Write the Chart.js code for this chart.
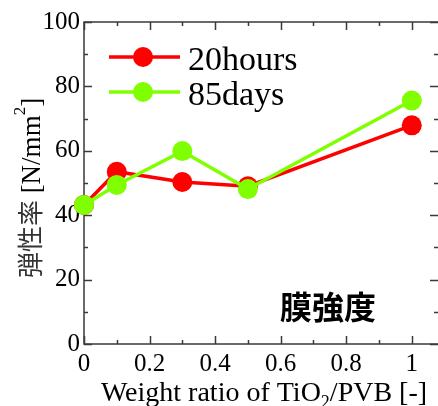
<!DOCTYPE html>
<html>
<head>
<meta charset="utf-8">
<script src="https://cdn.jsdelivr.net/npm/chart.js@4.4.0/dist/chart.umd.min.js"></script>
<style>
  html, body { margin: 0; padding: 0; background: #fff; }
  #c { display: block; }
</style>
</head>
<body>
<canvas id="c" width="438" height="406"></canvas>
<script>
// Elastic modulus of TiO2/PVB films vs. TiO2 weight ratio
const ratios = [0, 0.1, 0.3, 0.5, 1.0];
const modulus20hours = [43.2, 53.5, 50.3, 49.0, 67.9];
const modulus85days = [43.2, 49.4, 59.9, 48.1, 75.6];
const seriesLabels = ['20hours', '85days'];
const seriesColors = ['#ff0000', '#80ff00'];
const xMajorTicks = [0, 0.2, 0.4, 0.6, 0.8, 1];
const xMinorTicks = [0.1, 0.3, 0.5, 0.7, 0.9];
const yMajorTicks = [0, 20, 40, 60, 80, 100];
const yMinorTicks = [10, 30, 50, 70, 90];
const xTitle = ['Weight ratio of TiO', '2', '/PVB [-]'];
const yTitle = ['弾性率', ' [N/mm', '2', ']'];
const panelNote = '膜強度';

const SERIF = '"Liberation Serif", "Times New Roman", serif';
const CJK = '"Noto Sans CJK JP", sans-serif';
const AXIS_COLOR = '#3a3a3a';

function toPoints(values) {
  return ratios.map((x, i) => ({ x: x, y: values[i] }));
}

// Fixed scale box sizes, no extra label padding
function fixBox(size) {
  return s => {
    if (s.isHorizontal()) s.height = size; else s.width = size;
    s.paddingLeft = 0; s.paddingRight = 0; s.paddingTop = 0; s.paddingBottom = 0;
  };
}

// Inward tick marks and plot frame, drawn under the data
const framePlugin = {
  id: 'frame',
  beforeDatasetsDraw(chart) {
    const { ctx, chartArea: a, scales } = chart;
    const xs = scales.x, ys = scales.y;
    ctx.save();
    ctx.strokeStyle = AXIS_COLOR;
    ctx.lineWidth = 1.5;
    ctx.beginPath();
    ctx.moveTo(a.right + 1, a.top); ctx.lineTo(a.left, a.top);
    ctx.lineTo(a.left, a.bottom); ctx.lineTo(a.right + 1, a.bottom);
    ctx.lineTo(a.right + 1, a.top);
    ctx.stroke();
    ctx.beginPath();
    const xt = (vals, len) => vals.forEach(v => {
      const px = Math.round(xs.getPixelForValue(v)) + 0.5;
      ctx.moveTo(px, a.bottom); ctx.lineTo(px, a.bottom - len);
      ctx.moveTo(px, a.top); ctx.lineTo(px, a.top + len);
    });
    const yt = (vals, len) => vals.forEach(v => {
      const py = Math.round(ys.getPixelForValue(v)) + 0.5;
      ctx.moveTo(a.left, py); ctx.lineTo(a.left + len, py);
      ctx.moveTo(a.right, py); ctx.lineTo(a.right - len, py);
    });
    xt(xMajorTicks, 8); xt(xMinorTicks, 4);
    yt(yMajorTicks, 8); yt(yMinorTicks, 4);
    ctx.stroke();
    ctx.restore();
  }
};

// Legend, axis titles and panel caption
const textPlugin = {
  id: 'texts',
  afterDraw(chart) {
    const { ctx, data } = chart;
    ctx.save();

    // legend
    data.datasets.forEach((ds, i) => {
      const y = 57 + 35 * i;
      ctx.strokeStyle = ds.borderColor;
      ctx.lineWidth = 3.5;
      ctx.beginPath(); ctx.moveTo(109, y); ctx.lineTo(180, y); ctx.stroke();
      ctx.fillStyle = ds.backgroundColor;
      ctx.beginPath(); ctx.arc(143, y, 10, 0, Math.PI * 2); ctx.fill();
      ctx.fillStyle = '#000';
      ctx.font = '34px ' + SERIF;
      ctx.textAlign = 'left';
      ctx.textBaseline = 'alphabetic';
      ctx.fillText(ds.label, 188, y + 13);
    });

    // x axis title with subscript
    ctx.fillStyle = '#000';
    ctx.textBaseline = 'alphabetic';
    ctx.textAlign = 'left';
    const mainX = '28px ' + SERIF, subX = '18px ' + SERIF;
    ctx.font = mainX; const w0 = ctx.measureText(xTitle[0]).width;
    ctx.font = subX;  const w1 = ctx.measureText(xTitle[1]).width;
    ctx.font = mainX; const w2 = ctx.measureText(xTitle[2]).width;
    let x = 264 - (w0 + w1 + w2) / 2;
    const by = 401;
    ctx.font = mainX; ctx.fillText(xTitle[0], x, by); x += w0;
    ctx.font = subX;  ctx.fillText(xTitle[1], x, by + 7); x += w1;
    ctx.font = mainX; ctx.fillText(xTitle[2], x, by);

    // y axis title, rotated, with superscript
    ctx.save();
    ctx.translate(30, 188);
    ctx.rotate(-Math.PI / 2);
    const fonts = ['26px ' + CJK, '27px ' + SERIF, '17px ' + SERIF, '27px ' + SERIF];
    const shifts = [0, 0, -15, 0];
    const widths = yTitle.map((t, i) => { ctx.font = fonts[i]; return ctx.measureText(t).width; });
    let lx = -widths.reduce((s, w) => s + w, 0) / 2;
    yTitle.forEach((t, i) => {
      ctx.font = fonts[i];
      ctx.fillStyle = i === 0 ? '#333' : '#000';
      ctx.fillText(t, lx, 10 + shifts[i]);
      lx += widths[i];
    });
    ctx.restore();

    // caption
    ctx.fillStyle = '#000';
    ctx.font = 'bold 32px ' + CJK;
    ctx.textAlign = 'center';
    ctx.textBaseline = 'middle';
    ctx.fillText(panelNote, 328, 307);

    ctx.restore();
  }
};

const fmt = v => String(Math.round(v * 10) / 10);

new Chart(document.getElementById('c'), {
  type: 'scatter',
  data: {
    datasets: [
      {
        label: seriesLabels[0],
        data: toPoints(modulus20hours),
        borderColor: seriesColors[0],
        backgroundColor: seriesColors[0],
        borderWidth: 3.5,
        pointRadius: 10,
        pointBorderWidth: 0,
        showLine: true,
        clip: false,
        order: 2
      },
      {
        label: seriesLabels[1],
        data: toPoints(modulus85days),
        borderColor: seriesColors[1],
        backgroundColor: seriesColors[1],
        borderWidth: 3.5,
        pointRadius: 10,
        pointBorderWidth: 0,
        showLine: true,
        clip: false,
        order: 1
      }
    ]
  },
  options: {
    responsive: false,
    animation: false,
    devicePixelRatio: 1,
    layout: { autoPadding: false, padding: { left: 0, top: 22, right: 0, bottom: 0 } },
    plugins: { legend: { display: false }, tooltip: { enabled: false } },
    scales: {
      x: {
        type: 'linear',
        min: 0,
        max: 1.08,
        grid: { display: false, drawTicks: false },
        border: { display: false },
        ticks: {
          stepSize: 0.2,
          includeBounds: false,
          autoSkip: false,
          maxRotation: 0,
          padding: 5,
          color: '#000',
          font: { family: SERIF, size: 25 },
          callback: v => (xMajorTicks.some(t => Math.abs(t - v) < 1e-6) ? fmt(v) : '')
        },
        afterFit: fixBox(62)
      },
      y: {
        type: 'linear',
        min: 0,
        max: 100,
        grid: { display: false, drawTicks: false },
        border: { display: false },
        ticks: {
          stepSize: 20,
          autoSkip: false,
          padding: 4,
          color: '#000',
          font: { family: SERIF, size: 25 },
          callback: v => (yMajorTicks.includes(v) ? String(v) : '')
        },
        afterFit: fixBox(84)
      }
    }
  },
  plugins: [framePlugin, textPlugin]
});
</script>
</body>
</html>
